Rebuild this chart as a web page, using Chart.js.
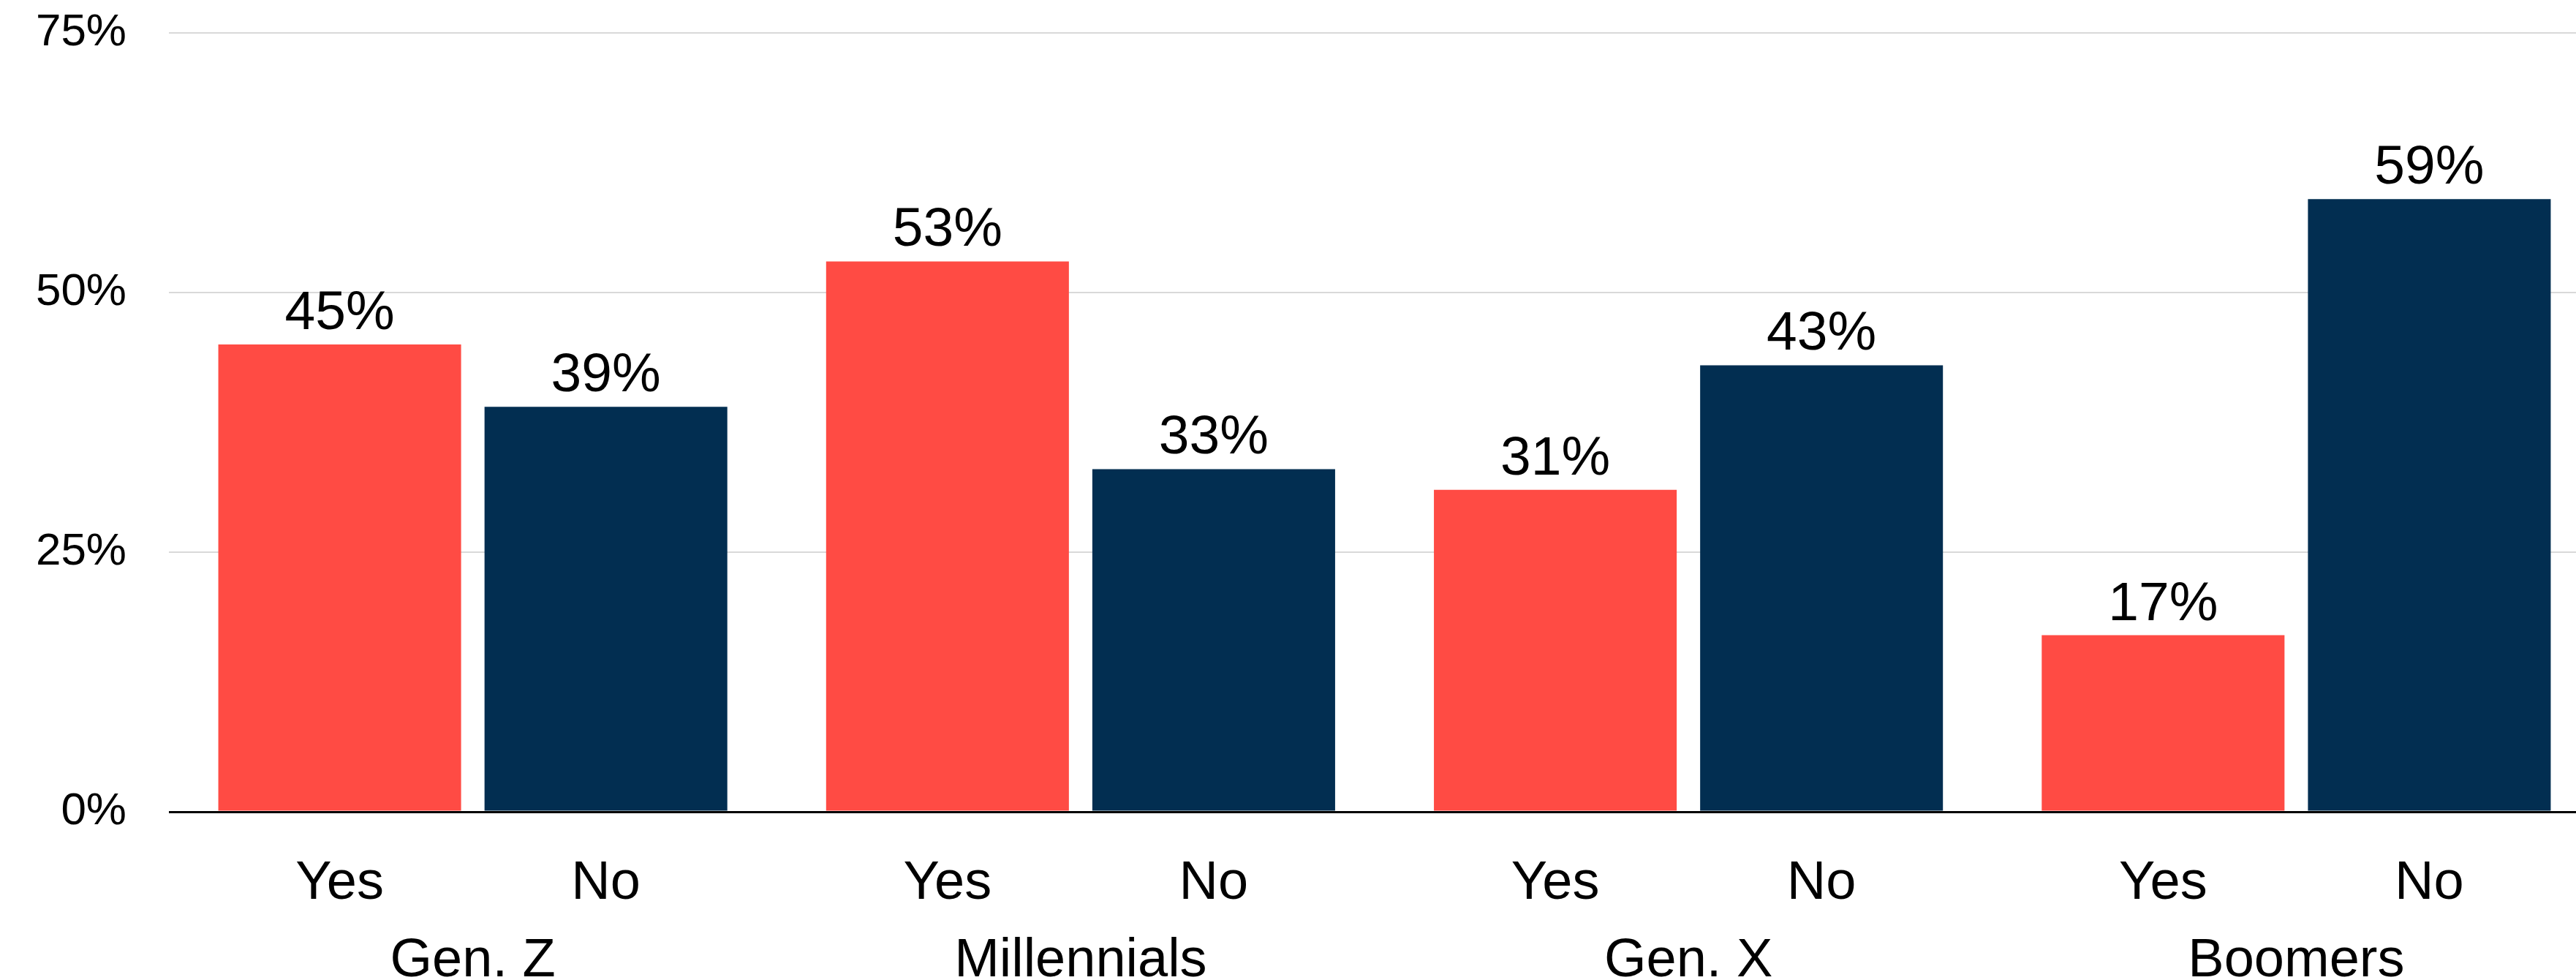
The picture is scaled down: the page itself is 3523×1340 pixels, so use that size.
<!DOCTYPE html>
<html>
<head>
<meta charset="utf-8">
<script src="https://cdn.jsdelivr.net/npm/chart.js@4.4.1/dist/chart.umd.min.js"></script>
<style>
  html, body { margin: 0; padding: 0; background: #fff; overflow: hidden; }
  #wrap { width: 3556px; height: 1340px; }
</style>
</head>
<body>
<div id="wrap"><canvas id="chart"></canvas></div>
<script>
// data
const groups = ['Gen. Z', 'Millennials', 'Gen. X', 'Boomers'];
const answers = ['Yes', 'No'];
const yesValues = [45, 53, 31, 17];
const noValues = [39, 33, 43, 59];
const yTicks = [0, 25, 50, 75];

const FONT = '"Liberation Sans", Arial, sans-serif';

// value labels above bars + Yes/No under each bar
const barLabels = {
  id: 'barLabels',
  afterDatasetsDraw(chart) {
    const ctx = chart.ctx;
    const bottom = chart.chartArea.bottom;
    ctx.save();
    ctx.fillStyle = '#000';
    ctx.textAlign = 'center';
    ctx.textBaseline = 'alphabetic';
    chart.data.datasets.forEach((ds, i) => {
      chart.getDatasetMeta(i).data.forEach((bar, j) => {
        ctx.font = '75px ' + FONT;
        ctx.fillText(ds.data[j] + '%', bar.x, bar.y - 21);
        ctx.font = '74px ' + FONT;
        ctx.fillText(ds.label, bar.x, bottom + 119);
      });
    });
    ctx.restore();
  }
};

const ctx = document.getElementById('chart').getContext('2d');
new Chart(ctx, {
  type: 'bar',
  data: {
    labels: groups,
    datasets: [
      { label: answers[0], data: yesValues, backgroundColor: '#FF4B44' },
      { label: answers[1], data: noValues, backgroundColor: '#022E51' }
    ]
  },
  options: {
    responsive: true,
    maintainAspectRatio: false,
    animation: false,
    categoryPercentage: 0.876,
    barPercentage: 0.912,
    layout: { padding: { top: 45, left: 0, right: 0, bottom: 0 } },
    plugins: {
      legend: { display: false },
      tooltip: { enabled: false }
    },
    scales: {
      x: {
        grid: { display: false, drawTicks: false },
        border: { display: false },
        ticks: {
          color: '#000',
          font: { family: FONT, size: 74 },
          padding: 160,
          maxRotation: 0
        },
        afterFit: (s) => { s.height = 230; }
      },
      y: {
        min: 0,
        max: 75,
        afterBuildTicks: (s) => { s.ticks = yTicks.map(v => ({ value: v })); },
        grid: {
          drawTicks: false,
          color: (c) => c.tick.value === 0 ? '#000' : '#d9d9d9',
          lineWidth: (c) => c.tick.value === 0 ? 3 : 2
        },
        border: { display: false },
        ticks: {
          color: '#000',
          font: { family: FONT, size: 62 },
          padding: 58,
          callback: (v) => v + '%'
        },
        afterFit: (s) => {
          s.width = 231;
          s.paddingTop = 0;
          s.paddingBottom = 0;
        }
      }
    }
  },
  plugins: [barLabels]
});
</script>
</body>
</html>
